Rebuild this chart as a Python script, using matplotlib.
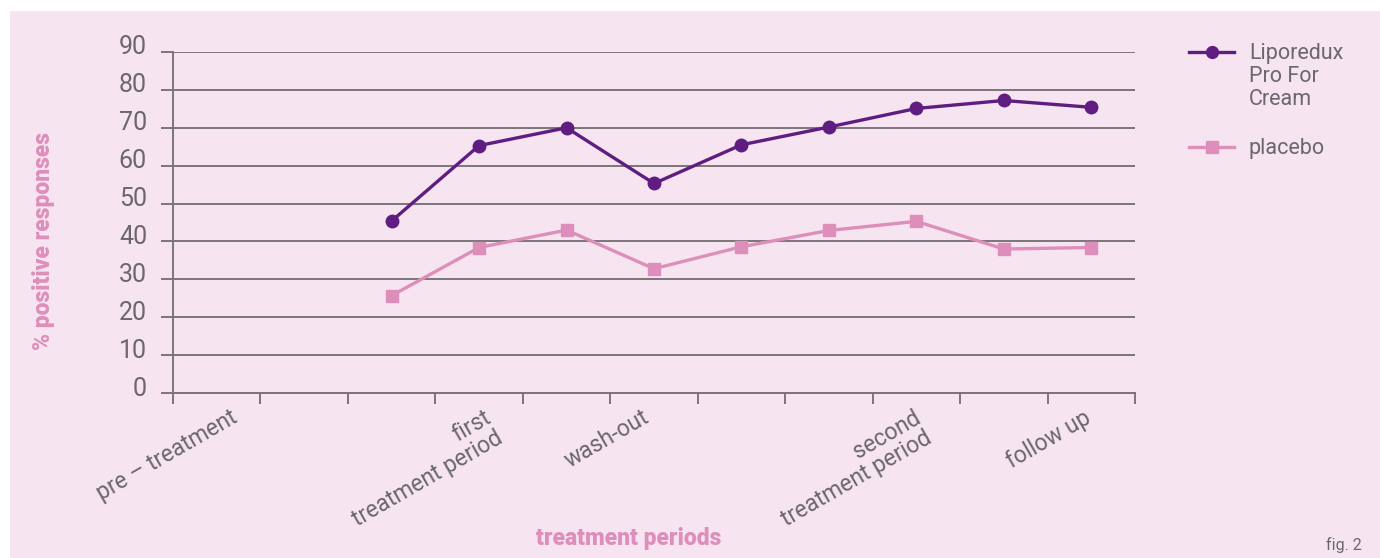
import matplotlib
matplotlib.use("Agg")
import matplotlib.pyplot as plt
from matplotlib.lines import Line2D
from matplotlib.patches import Rectangle
from matplotlib.transforms import ScaledTranslation, blended_transform_factory

# ---- data -------------------------------------------------------------
n_periods = 11
period_index = [2, 3, 4, 5, 6, 7, 8, 9, 10]
liporedux = [45.4, 65.3, 70.0, 55.3, 65.5, 70.2, 75.1, 77.2, 75.4]
placebo = [25.7, 38.4, 43.0, 32.8, 38.6, 42.9, 45.3, 38.0, 38.4]
y_ticks = [0, 10, 20, 30, 40, 50, 60, 70, 80, 90]
period_labels = ["pre \u2013 treatment", "first\ntreatment period", "wash-out",
                 "second\ntreatment period", "follow up"]
period_label_pos = [0.15, 3.05, 4.86, 7.96, 9.91]
series_names = ["Liporedux\nPro For\nCream", "placebo"]

# ---- style ------------------------------------------------------------
BG = "#f6e5f0"
PURPLE = "#5f1d82"
PINK = "#de8ebb"
GRID = "#7b7579"
TEXT = "#6b676c"
FONT = "Roboto"
TW = "normal"

W, H, DPI = 1380, 558, 100
fig = plt.figure(figsize=(W / DPI, H / DPI), dpi=DPI, facecolor="white")
fig.patches.append(Rectangle((10 / W, 0), 1 - 10 / W, 1 - 11 / H,
                             transform=fig.transFigure, facecolor=BG,
                             edgecolor="none", zorder=-10))

ax = fig.add_axes([173 / W, 1 - 393 / H, (1135 - 173) / W, (393 - 52) / H])
ax.set_facecolor("none")
ax.set_xlim(-0.5, n_periods - 0.5)
ax.set_ylim(0, 90)

for s in ("top", "right"):
    ax.spines[s].set_visible(False)
for s in ("left", "bottom"):
    ax.spines[s].set_color(GRID)
    ax.spines[s].set_linewidth(1.4)

ax.set_yticks(y_ticks)
ax.yaxis.grid(True, color=GRID, linewidth=1.4)
ax.set_axisbelow(True)
ax.tick_params(axis="y", length=12 * 72 / DPI, width=1.4, color=GRID,
               pad=14 * 72 / DPI, labelsize=18, labelcolor=TEXT)
for lab in ax.get_yticklabels():
    lab.set_fontfamily(FONT)
    lab.set_fontweight(TW)
    lab.set_transform(lab.get_transform() + ScaledTranslation(0, 7 / DPI, fig.dpi_scale_trans))

ax.set_xticks([i - 0.5 for i in range(n_periods + 1)])
ax.set_xticklabels([])
ax.tick_params(axis="x", length=11 * 72 / DPI, width=1.4, color=GRID)

# period labels under the axis
trans = blended_transform_factory(ax.transData, ax.transAxes)
for pos, txt in zip(period_label_pos, period_labels):
    ax.text(pos, -13 / (393 - 52), txt, transform=trans, rotation=30,
            rotation_mode="anchor", ha="right", va="top", multialignment="right",
            fontsize=16.5, color=TEXT, family=FONT, fontweight=TW,
            linespacing=1.0)

# series
ax.plot(period_index, liporedux, color=PURPLE, lw=2.4, marker="o", ms=9,
        zorder=5, clip_on=False)
ax.plot(period_index, placebo, color=PINK, lw=2.4, marker="s", ms=8.5,
        zorder=5, clip_on=False)

# axis titles
fig.text(44 / W, 1 - 241 / H, "% positive responses", rotation=90, ha="center",
         va="center", fontsize=16.5, color=PINK, family=FONT, fontweight="black")
fig.text(629 / W, 1 - 538 / H, "treatment periods", ha="center", va="center",
         fontsize=16.5, color=PINK, family=FONT, fontweight="black")
fig.text(1362 / W, 1 - 545 / H, "fig. 2", ha="right", va="center",
         fontsize=11.5, color=TEXT, family=FONT, fontweight=TW)

# legend
legend_rows = [(52, PURPLE, "o", 8.5), (147, PINK, "s", 8)]
for (yp, col, mk, ms), name in zip(legend_rows, series_names):
    fy = 1 - yp / H
    fig.add_artist(Line2D([1189 / W, 1234 / W], [fy, fy], transform=fig.transFigure,
                          color=col, lw=2.4))
    fig.add_artist(Line2D([1211.5 / W], [fy], transform=fig.transFigure,
                          color=col, marker=mk, ms=ms, lw=0))
    fig.text(1249 / W, fy + 9 / H, name, ha="left", va="top", fontsize=15.5,
             color=TEXT, family=FONT, fontweight=TW, linespacing=1.12)

fig.savefig("out.png", dpi=DPI, facecolor="white")
